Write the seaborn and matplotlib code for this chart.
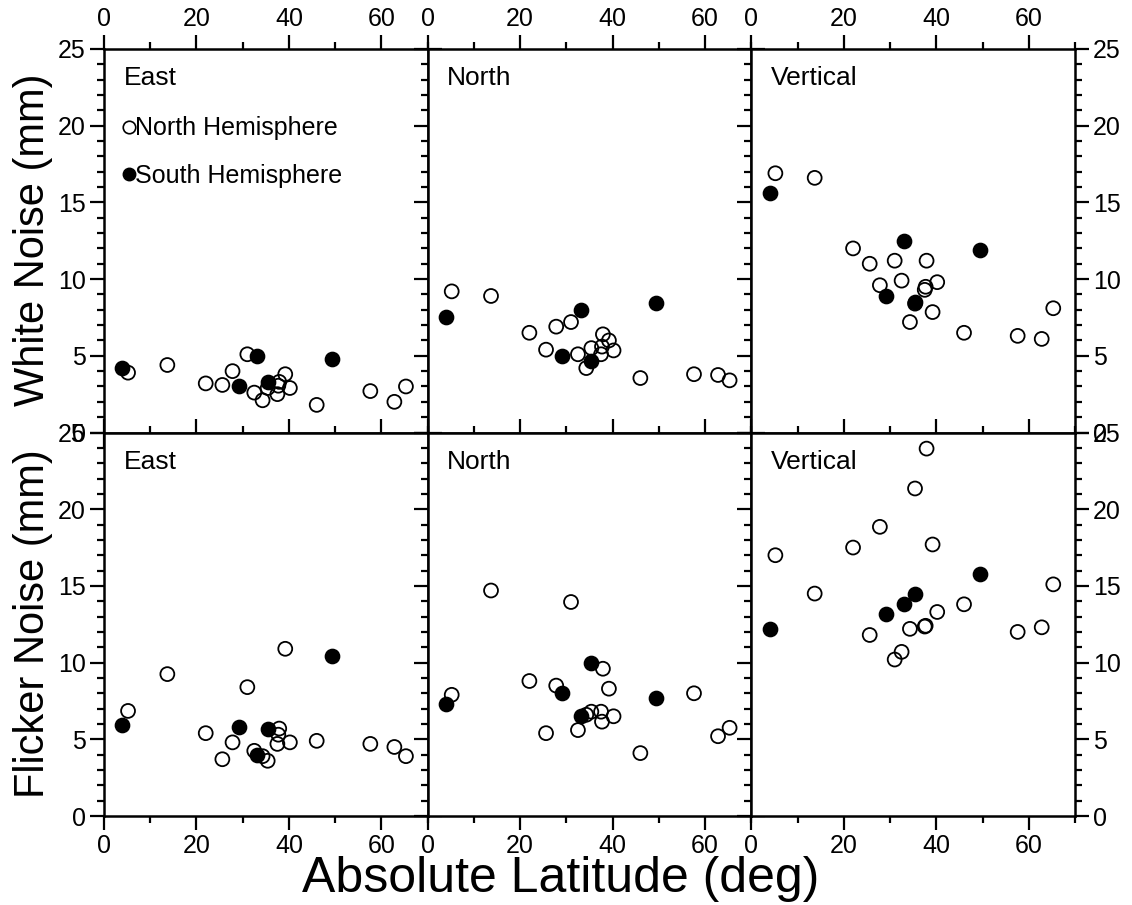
import matplotlib
matplotlib.use("Agg")
import matplotlib.pyplot as plt
from matplotlib.lines import Line2D
from matplotlib.ticker import MultipleLocator
import seaborn as sns
import pandas as pd

# station latitudes (absolute, deg)
north_lat = [5.2, 13.7, 22.0, 25.6, 27.8, 31.0, 32.5, 34.3, 35.4, 37.5, 37.7, 37.9,
             39.2, 40.2, 46.0, 57.6, 62.8, 65.3]
south_lat = [4.0, 29.1, 33.1, 35.4, 49.4]

# white noise (mm)
east_white_n = [3.9, 4.4, 3.2, 3.1, 4.0, 5.1, 2.6, 2.1, 2.9, 2.5, 3.05, 3.3,
                3.8, 2.9, 1.8, 2.7, 2.0, 3.0]
east_white_s = [4.2, 3.0, 5.0, 3.3, 4.8]
north_white_n = [9.2, 8.9, 6.5, 5.4, 6.9, 7.2, 5.1, 4.2, 5.5, 5.1, 5.6, 6.4,
                 6.0, 5.35, 3.55, 3.8, 3.75, 3.4]
north_white_s = [7.5, 5.0, 8.0, 4.65, 8.45]
vert_white_n = [16.9, 16.6, 12.0, 11.0, 9.6, 11.2, 9.9, 7.2, 8.4, 9.3, 9.5, 11.2,
                7.85, 9.8, 6.5, 6.3, 6.1, 8.1]
vert_white_s = [15.6, 8.9, 12.5, 8.5, 11.9]

# flicker noise (mm)
east_flick_n = [6.85, 9.25, 5.4, 3.7, 4.8, 8.4, 4.25, 3.9, 3.6, 4.7, 5.3, 5.7,
                10.9, 4.8, 4.9, 4.7, 4.5, 3.9]
east_flick_s = [5.9, 5.8, 4.0, 5.65, 10.4]
north_flick_n = [7.9, 14.7, 8.8, 5.4, 8.5, 13.95, 5.6, 6.6, 6.8, 6.8, 6.15, 9.6,
                 8.3, 6.5, 4.1, 8.0, 5.2, 5.75]
north_flick_s = [7.3, 8.05, 6.5, 9.97, 7.7]
vert_flick_n = [17.0, 14.5, 17.5, 11.8, 18.85, 10.2, 10.7, 12.2, 21.35, 12.35, 12.4, 23.95,
                17.7, 13.3, 13.8, 12.0, 12.3, 15.1]
vert_flick_s = [12.2, 13.2, 13.8, 14.5, 15.8]

components = ["East", "North", "Vertical"]
white_n = [east_white_n, north_white_n, vert_white_n]
white_s = [east_white_s, north_white_s, vert_white_s]
flick_n = [east_flick_n, north_flick_n, vert_flick_n]
flick_s = [east_flick_s, north_flick_s, vert_flick_s]

sns.set_style("ticks")
plt.rcParams['font.family'] = ['Liberation Sans', 'DejaVu Sans']
for key in ["text.color", "axes.labelcolor", "xtick.color", "ytick.color", "axes.edgecolor"]:
    plt.rcParams[key] = "black"

fig, axes = plt.subplots(2, 3, figsize=(11.32, 9.05), dpi=100)
fig.subplots_adjust(left=104 / 1132, right=1075 / 1132, top=1 - 49 / 905,
                     bottom=1 - 816 / 905, wspace=0, hspace=0)

for row, (vals_n, vals_s) in enumerate([(white_n, white_s), (flick_n, flick_s)]):
    for col in range(3):
        ax = axes[row, col]
        dn = pd.DataFrame({"lat": north_lat, "noise": vals_n[col]})
        ds = pd.DataFrame({"lat": south_lat, "noise": vals_s[col]})
        sns.scatterplot(data=dn, x="lat", y="noise", ax=ax, s=100, color="black",
                        facecolor="none", edgecolor="black", linewidth=1.3,
                        clip_on=False, zorder=3)
        sns.scatterplot(data=ds, x="lat", y="noise", ax=ax, s=100, color="black",
                        edgecolor="black", linewidth=1.3, clip_on=False, zorder=4)
        ax.set_xlim(0, 70)
        ax.set_ylim(0, 25)
        ax.xaxis.set_major_locator(MultipleLocator(20))
        ax.xaxis.set_minor_locator(MultipleLocator(10))
        ax.yaxis.set_major_locator(MultipleLocator(5))
        ax.yaxis.set_minor_locator(MultipleLocator(1))
        ax.tick_params(which="both", direction="out", top=True, bottom=True,
                       left=True, right=True, width=1.6, labelsize=18, pad=3,
                       labeltop=(row == 0), labelbottom=(row == 1),
                       labelleft=(col == 0), labelright=(col == 2))
        ax.tick_params(which="major", length=10)
        ax.tick_params(which="minor", length=5)
        for sp in ax.spines.values():
            sp.set_linewidth(1.8)
        ax.set_xlabel("")
        ax.set_ylabel("")
        ax.text(0.06, 0.955, components[col], transform=ax.transAxes,
                ha="left", va="top", fontsize=19)

handles = [
    Line2D([], [], ls="none", marker="o", markersize=9, markerfacecolor="none",
           markeredgecolor="black", markeredgewidth=1.2, label="North Hemisphere"),
    Line2D([], [], ls="none", marker="o", markersize=9, markerfacecolor="black",
           markeredgecolor="black", label="South Hemisphere"),
]
axes[0, 0].legend(handles=handles, loc="upper left", bbox_to_anchor=(0.0, 0.87),
                  frameon=False, fontsize=18, handlelength=0.6, handletextpad=-0.05,
                  labelspacing=0.95, borderaxespad=0.3)

fig.text(33 / 1132, 1 - 240 / 905, "White Noise (mm)", rotation=90,
         ha="center", va="center", fontsize=30)
fig.text(33 / 1132, 1 - 624 / 905, "Flicker Noise (mm)", rotation=90,
         ha="center", va="center", fontsize=30)
fig.text(561 / 1132, 1 - 879 / 905, "Absolute Latitude (deg)",
         ha="center", va="center", fontsize=36)

fig.savefig("out.png", dpi=100)
